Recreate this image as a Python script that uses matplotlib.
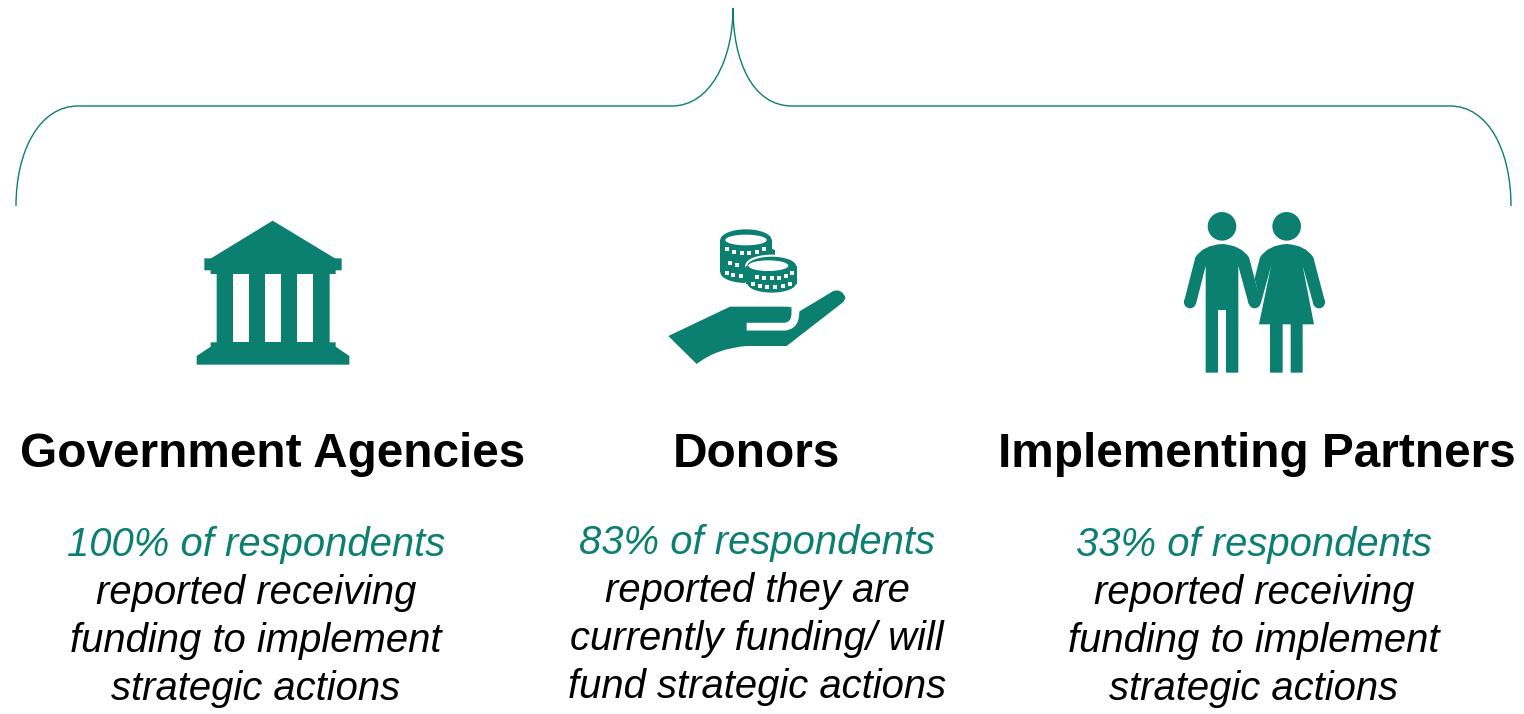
import matplotlib
matplotlib.use("Agg")
import matplotlib.pyplot as plt
from matplotlib.path import Path
from matplotlib.patches import PathPatch, Polygon, Circle, Ellipse

groups = ["Government Agencies", "Donors", "Implementing Partners"]
percentages = [100, 83, 33]
descriptions = [
    ["reported receiving", "funding to implement", "strategic actions"],
    ["reported they are", "currently funding/ will", "fund strategic actions"],
    ["reported receiving", "funding to implement", "strategic actions"],
]

TEAL = "#0B7F70"
plt.rcParams["font.family"] = ["Liberation Sans", "DejaVu Sans"]

fig = plt.figure(figsize=(15.24, 7.14), dpi=100)
ax = fig.add_axes([0, 0, 1, 1])
ax.set_xlim(0, 1524)
ax.set_ylim(714, 0)
ax.axis("off")

M, L, C3, C4 = Path.MOVETO, Path.LINETO, Path.CURVE3, Path.CURVE4

# brace
brace = [
    (M, (16, 206)), (C4, (16, 150)), (C4, (40, 106)), (C4, (78, 106)),
    (L, (672, 106)), (C4, (710, 106)), (C4, (733, 60)), (C4, (733, 8)),
    (C4, (733, 60)), (C4, (752, 106)), (C4, (792, 106)),
    (L, (1450, 106)), (C4, (1488, 106)), (C4, (1511, 150)), (C4, (1511, 206)),
]
ax.add_patch(PathPatch(Path([p for _, p in brace], [c for c, _ in brace]),
                       fc="none", ec=TEAL, lw=1.0))


def z(ox, oy, pts):
    return [(ox + x / 3, oy + y / 3) for x, y in pts]


def fill(pts, color=TEAL, zorder=3):
    ax.add_patch(Polygon(pts, closed=True, fc=color, ec="none", zorder=zorder))


# building
fill(z(180, 200, [(278, 62), (465, 175), (485, 175), (485, 211), (467, 211), (467, 222),
                  (449, 222), (449, 427), (467, 427), (467, 440), (508, 468), (508, 494),
                  (50, 494), (50, 468), (92, 440), (92, 427), (110, 427), (110, 222),
                  (92, 222), (92, 211), (73, 211), (73, 175), (93, 175)]))
for x0, x1 in [(158, 206), (255, 303), (352, 400)]:
    fill(z(180, 200, [(x0, 222), (x1, 222), (x1, 427), (x0, 427)]), "white", 4)

# hand
hand = [(M, (55, 378)), (L, (240, 290)), (L, (410, 290)), (C3, (430, 290)), (C3, (447, 305)),
        (L, (550, 243)), (C3, (575, 235)), (C3, (586, 262)), (C3, (586, 272)), (C3, (575, 280)),
        (L, (410, 408)), (L, (290, 408)), (C3, (200, 415)), (C3, (140, 462)), (L, (55, 378))]
hp = z(650, 210, [p for _, p in hand])
ax.add_patch(PathPatch(Path(hp, [c for c, _ in hand]), fc=TEAL, ec="none", zorder=3))
gap = [(M, (290, 350)), (L, (405, 350)), (C4, (437, 345)), (C4, (437, 320)), (C4, (436, 288))]
gp = z(650, 210, [p for _, p in gap])
ax.add_patch(PathPatch(Path(gp, [c for c, _ in gap]), fc="none", ec="white",
                       lw=5.6, capstyle="butt", zorder=4))


def coin_stack(cx, top, bottom, rx, ry, irx, iry, icx, zorder, edge=False):
    ox, oy = 650, 210
    X, T, B = ox + cx / 3, oy + top / 3, oy + bottom / 3
    RX, RY = rx / 3, ry / 3
    lw = 1.5 if edge else 0
    ec = "white" if edge else "none"
    ax.add_patch(Ellipse((X, T), 2 * RX, 2 * RY, fc=TEAL, ec=ec, lw=lw, zorder=zorder))
    ax.add_patch(Ellipse((X, B), 2 * RX, 2 * RY, fc=TEAL, ec=ec, lw=lw, zorder=zorder))
    ax.add_patch(Polygon([(X - RX, T), (X + RX, T), (X + RX, B), (X - RX, B)],
                         fc=TEAL, ec="none", zorder=zorder + 0.1))
    ax.add_patch(Ellipse((ox + icx / 3, T), 2 * irx / 3, 2 * iry / 3, fc="white",
                         ec="none", zorder=zorder + 0.2))


coin_stack(288, 90, 187, 77, 32, 62, 16, 288, 5)
coin_stack(365, 167, 221, 76, 30, 60, 16, 355, 6, edge=True)
# small step between stacked coins
fill(z(650, 210, [(345, 110), (375, 120), (375, 145), (345, 145)]), TEAL, 4.5)

dots_back = [(232, 118), (252, 125), (275, 128), (297, 128), (320, 125), (343, 118),
             (240, 160), (262, 166), (232, 188), (250, 195), (272, 198)]
dots_front = [(320, 200), (343, 204), (365, 204), (387, 204), (408, 198), (425, 190),
              (310, 222), (330, 228), (352, 230), (375, 230), (398, 228), (420, 222)]
for dots, zo in [(dots_back, 5.5), (dots_front, 6.5)]:
    pts = z(650, 210, dots)
    ax.scatter([p[0] for p in pts], [p[1] for p in pts], marker="s", s=9, c="white",
               linewidths=0, zorder=zo)

# people
ppl = (1170, 200)
for hx in (156, 350):
    cx, cy = z(*ppl, [(hx, 79)])[0]
    ax.add_patch(Circle((cx, cy), 14.3, fc=TEAL, ec="none", zorder=3))
man = [(M, (156, 132)), (C3, (100, 135)), (C3, (76, 172)), (L, (42, 305)),
       (L, (78, 312)), (L, (107, 198)), (L, (107, 518)), (L, (144, 518)), (L, (144, 330)),
       (L, (168, 330)), (L, (168, 518)), (L, (205, 518)), (L, (205, 198)), (L, (236, 312)),
       (L, (272, 305)), (L, (237, 172)), (C3, (212, 135)), (C3, (156, 132))]
woman = [(M, (350, 132)), (C3, (294, 135)), (C3, (270, 172)), (L, (254, 235)), (L, (272, 312)),
         (L, (303, 198)), (L, (267, 373)), (L, (300, 373)), (L, (300, 518)), (L, (338, 518)),
         (L, (338, 373)), (L, (362, 373)), (L, (362, 518)), (L, (398, 518)), (L, (398, 373)),
         (L, (432, 373)), (L, (398, 198)), (L, (430, 312)), (L, (465, 305)), (L, (430, 172)),
         (C3, (406, 135)), (C3, (350, 132))]
for shape in (man, woman):
    ax.add_patch(PathPatch(Path(z(*ppl, [p for _, p in shape]), [c for c, _ in shape]),
                           fc=TEAL, ec="none", zorder=3))
for hx in (60, 254, 447):
    cx, cy = z(*ppl, [(hx, 307)])[0]
    ax.add_patch(Circle((cx, cy), 6.0, fc=TEAL, ec="none", zorder=3))

# text
head_x = [272.5, 756.5, 1256.5]
body_x = [256, 757, 1254]
body_y = [555.5, 553.5, 555.5]
for i, name in enumerate(groups):
    ax.text(head_x[i], 467, name, ha="center", va="baseline", fontsize=34.4,
            fontweight="bold", color="black")
    ax.text(body_x[i], body_y[i], f"{percentages[i]}% of respondents", ha="center",
            va="baseline", fontsize=28.8, style="italic", color=TEAL)
    for j, line in enumerate(descriptions[i]):
        ax.text(body_x[i], body_y[i] + 48 * (j + 1), line, ha="center", va="baseline",
                fontsize=28.8, style="italic", color="black")

fig.savefig("out.png", dpi=100)
